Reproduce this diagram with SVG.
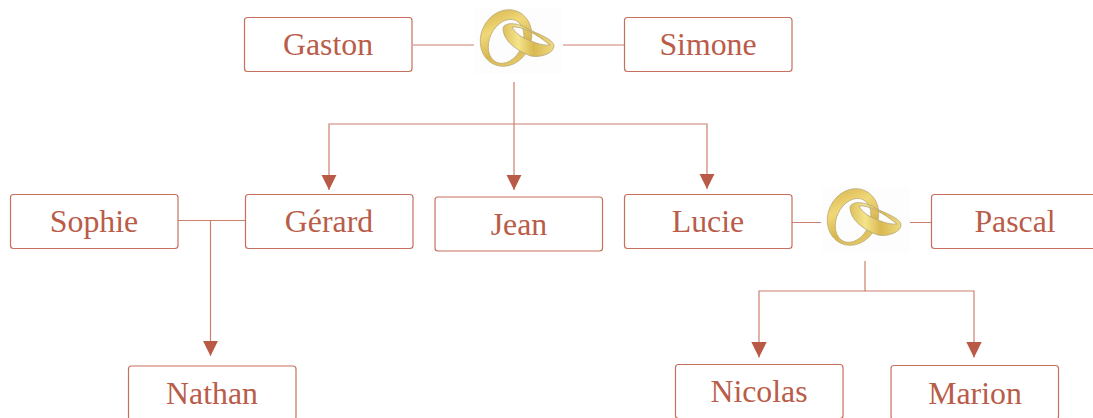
<svg xmlns="http://www.w3.org/2000/svg" width="1093" height="418" viewBox="0 0 1093 418">
<style>
.box{fill:#fff;stroke:#c7705e;stroke-width:1.2}
.lbl{font-family:"Liberation Serif","Times New Roman",serif;font-size:31.8px;fill:#b95c49;text-anchor:middle}
.c{fill:none;stroke:#cc8070;stroke-width:1.2}
.a{marker-end:url(#arrow)}
</style>
<defs>
<marker id="arrow" markerUnits="userSpaceOnUse" markerWidth="16" markerHeight="16" refX="15.5" refY="8" orient="auto" viewBox="0 0 16 16"><path d="M0 .3L15.5 8L0 15.7Z" fill="#b85a45"/></marker>
<linearGradient id="gold" x1="0" y1="0" x2="1" y2="1"><stop offset="0" stop-color="#d4ae45"/><stop offset=".35" stop-color="#f0d878"/><stop offset=".65" stop-color="#d8b64e"/><stop offset="1" stop-color="#ecd478"/></linearGradient>
<linearGradient id="gold2" x1="0" y1="0" x2="1" y2="0"><stop offset="0" stop-color="#dfc05c"/><stop offset=".3" stop-color="#f4e48c"/><stop offset=".6" stop-color="#d9b850"/><stop offset="1" stop-color="#eeda80"/></linearGradient>
<g id="rings">
<rect width="87" height="66" fill="#fdfdfd"/>
<g transform="translate(31,30) rotate(25)"><path fill-rule="evenodd" d="M-25 0a25 29 0 1 0 50 0a25 29 0 1 0 -50 0ZM-15 3a16.500 23 0 1 0 33 0a16.500 23 0 1 0 -33 0Z" fill="url(#gold)" stroke="#bfae7a" stroke-width=".8"/></g>
<path fill-rule="evenodd" d="M28 20C30 13 45 15 55 22C66 27 79 32 79 38C79 45 66 50 56 48C42 43 28 33 28 20ZM37 19C47 18 60 25 75 37C66 38 56 33 49 30C43 27 39 23 37 19Z" fill="url(#gold2)" stroke="#b5a678" stroke-width=".8"/>
</g>
</defs>
<g id="connectors">
<path class="c" d="M413 45H474M563 45H624"/>
<path class="c a" d="M514 82V124H329V190"/>
<path class="c a" d="M514 124V190"/>
<path class="c a" d="M514 124H707V189"/>
<path class="c" d="M178 220.500H245"/>
<path class="c a" d="M210.500 220.500V356"/>
<path class="c" d="M792 222.500H821M910 222.500H931"/>
<path class="c a" d="M865 261V291H759V357.500"/>
<path class="c a" d="M865 291H974V357.500"/>
</g>
<g id="rings-1"><use href="#rings" x="475" y="8"/></g>
<g id="rings-2"><use href="#rings" x="822" y="187"/></g>
<g id="gaston"><rect class="box" x="244.500" y="17.500" width="167.500" height="54" rx="3"/><text class="lbl" x="328" y="55">Gaston</text></g>
<g id="simone"><rect class="box" x="624.500" y="17.500" width="167.500" height="54" rx="3"/><text class="lbl" x="708" y="55">Simone</text></g>
<g id="sophie"><rect class="box" x="10.500" y="194.500" width="167.500" height="54" rx="3"/><text class="lbl" x="94" y="232">Sophie</text></g>
<g id="gerard"><rect class="box" x="245.500" y="194.500" width="167.500" height="54" rx="3"/><text class="lbl" x="329" y="232">Gérard</text></g>
<g id="jean"><rect class="box" x="435" y="197" width="167.500" height="54" rx="3"/><text class="lbl" x="519" y="235">Jean</text></g>
<g id="lucie"><rect class="box" x="624.500" y="194.500" width="167.500" height="54" rx="3"/><text class="lbl" x="708" y="232">Lucie</text></g>
<g id="pascal"><rect class="box" x="931.500" y="194.500" width="170" height="54" rx="3"/><text class="lbl" x="1015" y="232">Pascal</text></g>
<g id="nathan"><rect class="box" x="128.500" y="366" width="167.500" height="54" rx="3"/><text class="lbl" x="212" y="403.500">Nathan</text></g>
<g id="nicolas"><rect class="box" x="675.500" y="364.500" width="167.500" height="54" rx="3"/><text class="lbl" x="759" y="402">Nicolas</text></g>
<g id="marion"><rect class="box" x="891" y="365.500" width="167.500" height="54" rx="3"/><text class="lbl" x="975" y="403.500">Marion</text></g>
</svg>
